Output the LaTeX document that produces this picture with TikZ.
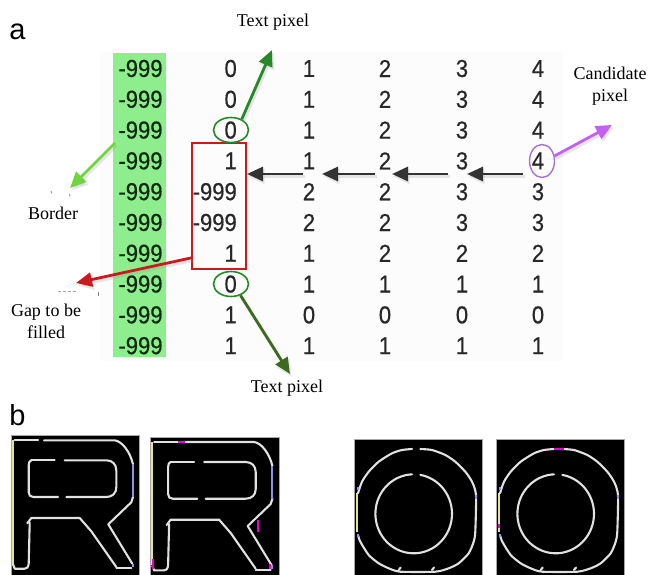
\documentclass[tikz,border=0pt]{standalone}
\usepackage{fontspec}
\setmainfont{Liberation Serif}
\newfontfamily\numfont[FakeStretch=0.9,FakeBold=0.5]{Liberation Sans}
\newfontfamily\panelfont{Liberation Sans}
\usetikzlibrary{arrows.meta,shapes.geometric}

\definecolor{bordergreen}{RGB}{142,238,142}
\definecolor{numgray}{RGB}{40,40,40}
\definecolor{numdark}{RGB}{18,42,18}
\definecolor{textgreen}{RGB}{40,135,40}
\definecolor{olivegreen}{RGB}{62,105,32}
\definecolor{limegreen}{RGB}{112,212,62}
\definecolor{gapred}{RGB}{205,25,30}
\definecolor{candviolet}{RGB}{195,95,245}
\definecolor{ringviolet}{RGB}{165,115,215}
\definecolor{strokegray}{RGB}{225,225,225}
\definecolor{edgeyellow}{RGB}{228,228,150}
\definecolor{edgeblue}{RGB}{145,145,232}
\definecolor{fillmagenta}{RGB}{232,0,205}

% one arrow with its soft cast shadow: colour, start, end
\newcommand\castarrow[3]{%
  \draw[shade, transform canvas={shift={(1.5pt,-2.5pt)}}] (#2) -- (#3);
  \draw[pointer, draw=#1, fill=#1] (#2) -- (#3);}

% outline of the letter R, without the left part of its top stroke
\newcommand\letterR{%
  \draw[stroke] (32.7,5) -- (103.4,5) .. controls (111,6) and (119,17) .. (121.7,29);
  \draw[stroke] (121.7,61.7) -- (120,67) -- (97,89) -- (121,128.4);
  \draw[stroke] (105,132.7) -- (120,132.7);
  \draw[stroke] (20,82.7) -- (68.4,82.7) -- (80,96) -- (105,131.7);
  \draw[stroke] (16,88) -- (20,82.7);
  \draw[stroke] (18.4,87) -- (17.4,128.4) .. controls (17,132) and (15.5,133.4) .. (13.4,133.4) -- (3.4,133.4) -- (1.7,129);
  \draw[stroke] (20,25) -- (43.4,25);
  \draw[stroke] (53.4,25) -- (95,25) .. controls (101,25) and (105,29) .. (105,35) -- (105,52)
      .. controls (105,58) and (101,61.7) .. (95,61.7) -- (55,61.7);
  \draw[stroke] (46.7,61.7) -- (22,61.7) .. controls (19,61.7) and (17.4,60) .. (17.4,57) -- (17.4,30)
      .. controls (17.4,27) and (18.5,25) .. (20,25);
  \draw[edgeY] (1.7,5) -- (1.7,128.3);
  \draw[edgeB] (121.7,29) -- (121.7,61.7);
  \draw[edgeB] (121.7,128.4) -- (121.7,132);}

% outline of the letter O, without the top of its outer ring
\newcommand\letterO{%
  \draw[stroke] plot[smooth,tension=.4] coordinates {(57.3,10) (47.3,11) (37.3,14.3) (24,22.7) (14,32.7) (7.3,42.7) (3.3,54.3)};
  \draw[edgeY] (2.3,54.3) -- (2.3,92.7);
  \draw[stroke] plot[smooth,tension=.4] coordinates {(3.3,96) (5.6,102.7) (14,116) (24,124.3) (34,129.3) (45.6,132.7)
      (80.6,132.7) (94,129.3) (104,124.3) (114,114.3) (119,102.7) (120.6,92.7) (121.3,56) (117.3,42.7)
      (110.6,32.7) (100.6,22.7) (90.6,16) (77.3,11) (65.6,10)};
  \draw[stroke] plot[domain=-80:267.5, samples=72] ({59+38.3*cos(\x)}, {74.8+39.5*sin(\x)});
  \draw[stroke] (44,131) -- (46,128.5);
  \draw[stroke] (77.3,131) -- (79.3,128.5);
  \draw[edgeB] (3.3,47.5) -- (3.3,51);
  \draw[edgeB] (121.3,56) -- (121.3,59.5);
  \draw[edgeB] (3.3,95) -- (3.3,98);}

\begin{document}
\begin{tikzpicture}[x=1pt,y=-1pt,
  num/.style={font=\numfont\fontsize{24.5}{24.5}\selectfont, text=numgray, inner sep=0pt},
  caption/.style={font=\fontsize{18}{22}\selectfont, align=center, inner sep=0pt},
  panel/.style={font=\panelfont\fontsize{29}{29}\selectfont, inner sep=0pt},
  pointer/.style={line width=2.8pt, -{Triangle[length=16pt,width=14pt]}},
  shade/.style={line width=3.4pt, draw=black!40, fill=black!40, opacity=0.22, -{Triangle[length=16pt,width=15pt]}},
  ring/.style={ellipse, inner sep=0pt, line width=1.6pt},
  stroke/.style={draw=strokegray, line width=2.1pt, line cap=round, line join=round},
  edgeY/.style={draw=edgeyellow, line width=2.1pt},
  edgeB/.style={draw=edgeblue, line width=2.1pt},
  edgeM/.style={draw=fillmagenta, line width=2.3pt},
  slate/.style={fill=black, draw=black!35, line width=0.6pt}]
\useasboundingbox (0,0) rectangle (654,575);

% ---------- panel a: distance table ----------
\fill[black!1.2] (100,52) rectangle (563,361);
\fill[bordergreen] (112.5,53) rectangle (165.5,357);

\foreach \r in {1,...,10}
  \node[num, text=numdark] (c1-\r) at (140.5, {68.5+30.8*(\r-1)}) {-999};
\foreach \v [count=\r] in {0,0,0,1,-999,-999,1,0,1,1}
  \node[num, anchor=east] (c2-\r) at (237, {68.5+30.8*(\r-1)}) {\v};
\foreach \v [count=\r] in {1,1,1,1,2,2,1,1,0,1}
  \node[num] (c3-\r) at (309, {68.5+30.8*(\r-1)}) {\v};
\foreach \v [count=\r] in {2,2,2,2,2,2,2,1,0,1}
  \node[num] (c4-\r) at (385, {68.5+30.8*(\r-1)}) {\v};
\foreach \v [count=\r] in {3,3,3,3,3,3,2,1,0,1}
  \node[num] (c5-\r) at (462, {68.5+30.8*(\r-1)}) {\v};
\foreach \v [count=\r] in {4,4,4,4,3,3,2,1,0,1}
  \node[num] (c6-\r) at (538, {68.5+30.8*(\r-1)}) {\v};

% marked cells
\node[draw=gapred, line width=1.8pt, minimum width=54pt, minimum height=126pt, inner sep=0pt] (gap) at (219,206) {};
\node[ring, draw=textgreen, minimum width=35pt, minimum height=25pt] (pixTop) at (231,130) {};
\node[ring, draw=textgreen, minimum width=35pt, minimum height=25pt] (pixBot) at (231,284) {};
\node[ring, draw=ringviolet, line width=1.4pt, minimum width=25pt, minimum height=33pt] (cand) at (542,161) {};

% captions
\node[panel] (pa) at (17.5,31.5) {a};
\node[caption] (lblTop) at (273,22) {Text pixel};
\node[caption] (lblBot) at (287,388) {Text pixel};
\node[caption] (lblCand) at (610,86) {Candidate\\pixel};
\node[caption] (lblBorder) at (53,213) {Border};
\node[caption] (lblGap) at (46,321) {Gap to be\\filled};

% arrow ends
\coordinate (tipTop) at (272,50);
\coordinate (tipBot) at (290,374);
\coordinate (borderFrom) at (115,143);
\coordinate (tipBorder) at (70,188);
\coordinate (gapFrom) at ([yshift=12pt]gap.south west);
\coordinate (tipGap) at (76,283);
\coordinate (tipCand) at (612,125);
\coordinate (s1) at (523,174); \coordinate (e1) at (467,174);
\coordinate (s2) at (448,174); \coordinate (e2) at (392,174);
\coordinate (s3) at (375,174); \coordinate (e3) at (322,174);
\coordinate (s4) at (303,174); \coordinate (e4) at (247,174);

\castarrow{textgreen}{pixTop.45}{tipTop}
\castarrow{olivegreen}{pixBot.-50}{tipBot}
\castarrow{limegreen}{borderFrom}{tipBorder}
\castarrow{gapred}{gapFrom}{tipGap}
\castarrow{candviolet}{cand.22}{tipCand}
\castarrow{black!80}{s1}{e1}
\castarrow{black!80}{s2}{e2}
\castarrow{black!80}{s3}{e3}
\castarrow{black!80}{s4}{e4}

% stray specks
\draw[black!45, line width=0.8pt] (51,191) -- (52,193.5);
\draw[black!45, line width=0.8pt] (69.5,194) -- (70,196.5);
\draw[black!35, line width=0.8pt, dash pattern=on 3pt off 2pt] (58,291) -- (78,291);
\draw[black!45, line width=0.8pt] (98,292) -- (98,296);

% ---------- panel b: letter outlines ----------
\node[panel] (pb) at (17.5,415) {b};

\begin{scope}[shift={(11.3,435.3)}]
  \path[slate] (0,0) rectangle (128.4,140);
  \draw[stroke] (3.4,5) -- (26.7,5);
  \letterR
\end{scope}

\begin{scope}[shift={(150.7,437)}]
  \path[slate] (0,0) rectangle (129,138);
  \draw[stroke] (3.4,5) -- (32.7,5);
  \letterR
  \draw[edgeM] (27.3,5) -- (34,5);
  \draw[edgeM] (107.3,83) -- (107.3,95);
  \draw[edgeM] (2.3,121.7) -- (2.3,131.7);
  \draw[edgeM] (119,127) -- (119,132);
\end{scope}

\begin{scope}[shift={(354.7,439)}]
  \path[slate] (0,0) rectangle (127.3,136);
  \letterO
\end{scope}

\begin{scope}[shift={(496.7,439)}]
  \path[slate] (0,0) rectangle (128,136);
  \letterO
  \draw[stroke] (57.3,10) -- (65.6,10);
  \draw[edgeM] (57.3,10) -- (67.3,10);
  \draw[edgeM] (2.3,85) -- (2.3,88.7);
\end{scope}
\end{tikzpicture}
\end{document}
